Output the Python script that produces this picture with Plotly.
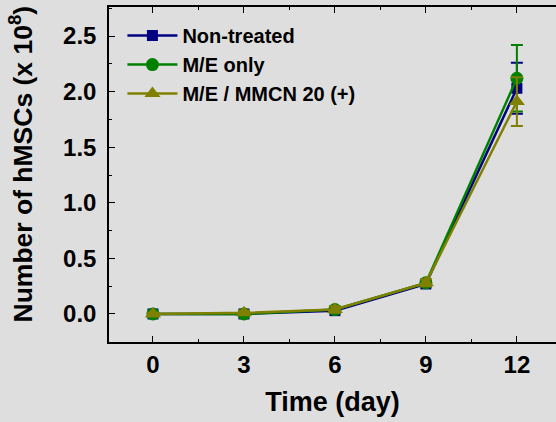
import plotly.graph_objects as go

days = [0, 3, 6, 9, 12]
non_treated = [0.0, 0.0, 0.03, 0.27, 2.03]
non_treated_err = [0.01, 0.01, 0.02, 0.02, 0.23]
me_only = [0.0, 0.0, 0.04, 0.28, 2.12]
me_only_err = [0.01, 0.01, 0.02, 0.02, 0.30]
me_mmcn = [0.0, 0.01, 0.04, 0.28, 1.91]
me_mmcn_err = [0.01, 0.02, 0.03, 0.03, 0.22]

series = [
    ("Non-treated", non_treated, non_treated_err, "#000080", "square", 11),
    ("M/E only", me_only, me_only_err, "#008000", "circle", 13),
    ("M/E / MMCN 20 (+)", me_mmcn, me_mmcn_err, "#808000", "triangle-up", 14),
]

font_family = "Liberation Sans, Arial, sans-serif"
fig = go.Figure()
for name, vals, errs, color, sym, size in series:
    fig.add_trace(go.Scatter(
        x=days, y=vals, name=name, mode="lines+markers",
        line=dict(color=color, width=2.5),
        marker=dict(symbol=sym, size=size, color=color),
        error_y=dict(type="data", array=errs, visible=True, color=color, thickness=2, width=6),
    ))

bg = "#dedede"
fig.update_layout(
    width=556, height=422,
    margin=dict(l=109, r=0, t=7, b=80),
    paper_bgcolor=bg, plot_bgcolor=bg,
    font=dict(family=font_family, color="black"),
    showlegend=True,
    legend=dict(x=0.03, y=0.973, xanchor="left", yanchor="top",
                bgcolor="rgba(0,0,0,0)", font=dict(size=20, family=font_family, weight="bold"),
                itemwidth=50, tracegroupgap=0),
    xaxis=dict(
        range=[-1.45, 13.29], tickmode="array", tickvals=days, ticktext=[str(d) for d in days],
        showgrid=False, zeroline=False, showline=True, linecolor="black", linewidth=1.5,
        mirror="ticks", ticks="inside", ticklen=6, tickcolor="black", tickwidth=1.2,
        minor=dict(dtick=1.5, tick0=0, ticks="inside", ticklen=3, tickcolor="black", showgrid=False),
        tickfont=dict(size=24, family=font_family, weight="bold"),
        ticklabelstandoff=0,
        title=dict(text="Time (day)", font=dict(size=27, family=font_family, weight="bold"), standoff=16),
    ),
    yaxis=dict(
        range=[-0.252, 2.761], tickmode="array", tickvals=[0, 0.5, 1.0, 1.5, 2.0, 2.5],
        ticktext=["0.0", "0.5", "1.0", "1.5", "2.0", "2.5"],
        showgrid=False, zeroline=False, showline=True, linecolor="black", linewidth=1.5,
        ticks="inside", ticklen=6, tickcolor="black", tickwidth=1.2,
        minor=dict(dtick=0.25, tick0=0, ticks="inside", ticklen=3, tickcolor="black", showgrid=False),
        tickfont=dict(size=24, family=font_family, weight="bold"),
        ticklabelstandoff=6,
    ),
)
fig.add_annotation(
    text="Number of hMSCs (x 10<sup>8</sup>)", textangle=-90,
    xref="paper", yref="paper", x=-0.196, y=0.531, xanchor="center", yanchor="middle",
    showarrow=False, font=dict(size=26.5, family=font_family, weight="bold", color="black"),
)

fig.write_html("out.html", config={"displayModeBar": False},
               post_script="document.body.style.margin='0';")
